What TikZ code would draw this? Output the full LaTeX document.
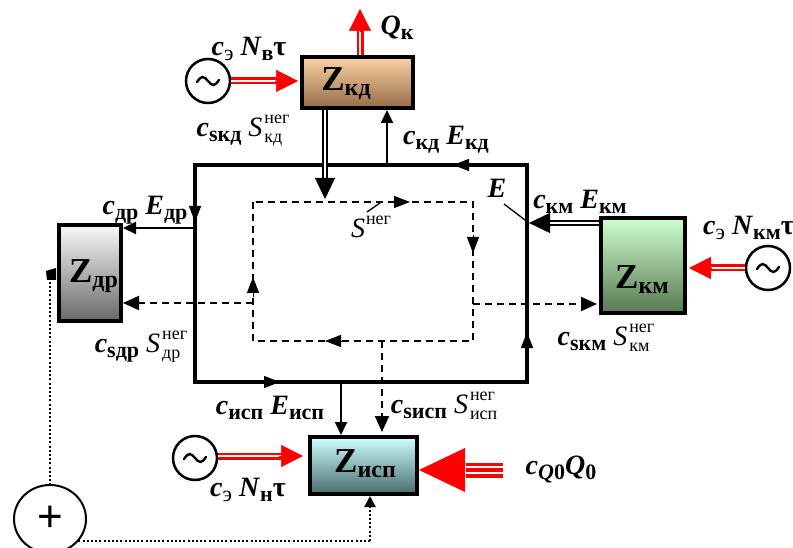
\documentclass[tikz,border=0pt]{standalone}
\usepackage{fontspec}
\setmainfont{Liberation Serif}
\newfontfamily\sansf{Liberation Sans}
\usetikzlibrary{arrows.meta,shapes.geometric}
\definecolor{kdtop}{RGB}{252,210,165}
\definecolor{kdbot}{RGB}{150,108,72}
\definecolor{drtop}{RGB}{248,248,248}
\definecolor{drbot}{RGB}{105,105,105}
\definecolor{kmtop}{RGB}{205,255,205}
\definecolor{kmbot}{RGB}{88,120,82}
\definecolor{istop}{RGB}{205,255,255}
\definecolor{isbot}{RGB}{72,108,108}
\definecolor{rd}{RGB}{255,0,0}
\newcommand{\cc}{\textbf{\textit{c}}}
\newcommand{\bit}[1]{\textbf{\textit{#1}}}
\newcommand{\bsub}[1]{\raisebox{-5pt}{\fontsize{22}{22}\selectfont\bfseries #1}}
\newcommand{\rsub}[1]{\raisebox{-5pt}{\fontsize{22}{22}\selectfont #1}}
\newcommand{\Sneg}[1]{\textit{S}\hspace{2pt}%
  \rlap{\raisebox{-6pt}{\fontsize{18}{18}\selectfont #1}}%
  \raisebox{13pt}{\fontsize{18}{18}\selectfont нег}}
\newcommand{\Zl}[1]{\fontsize{35}{35}\selectfont\bfseries Z\raisebox{-5pt}{\fontsize{24}{24}\selectfont #1}}
\newcommand{\Zat}[3]{\raisebox{#2}[0pt][0pt]{\makebox[0pt]{\hspace*{#1}\Zl{#3}}}}
\begin{document}
\begin{tikzpicture}[x=1pt,y=-1pt,
  zbox/.style={draw, line width=4pt, inner sep=0pt, shading=axis},
  gen/.style={circle, draw, line width=2.5pt, minimum size=44pt, inner sep=0pt, fill=white},
  tilde/.pic={\draw[line width=2.4pt, line cap=round] (-11,1) sin (-5.5,-4) cos (0,0) sin (5.5,4) cos (11,-1);},
  lab/.style={inner sep=0pt, font=\fontsize{28}{30}\selectfont},
  ar/.style={line width=2pt, -{Triangle[length=13pt,width=12pt]}},
  dar/.style={line width=2pt, dash pattern=on 7pt off 5pt, -{Triangle[length=16pt,width=14pt]}},
  dashd/.style={line width=2pt, dash pattern=on 7pt off 5pt},
  midtip/.style={line width=1pt, -{Triangle[length=16pt,width=12pt]}},
  dbl/.style={draw=black, double=white, double distance=2.4pt, line width=2pt},
  bigtip/.style={line width=0.5pt, -{Triangle[length=21pt,width=20pt]}},
  rshaft/.style={draw=rd, double=white, double distance=2.4pt, line width=2.3pt},
  rtip/.style={draw=rd, fill=rd, line width=0.5pt, -{Triangle[length=22pt,width=22pt]}},
  dots/.style={line width=2pt, dash pattern=on 2pt off 2.2pt}]
\useasboundingbox (0,0) rectangle (793,548);

% dotted feedback lines (drawn first, covered by the circle)
\coordinate (dm) at (50,280);
\coordinate (dc) at (370,541);
\node[ellipse, minimum width=72pt, minimum height=68pt, inner sep=0pt] (plus) at (50,519) {};
\node[zbox, top color=istop, bottom color=isbot, minimum width=107pt, minimum height=57pt] (Zisp) at (363.5,465.5) {\Zat{3pt}{-7pt}{исп}};
\draw[dots] (plus.center) -- (dm);
\draw[dots] (plus.center) |- (dc);
\draw[dots, -{Triangle[length=11pt,width=11pt]}] (dc) -- (dc |- Zisp.south);
\node[ellipse, draw, line width=2pt, fill=white, minimum width=72pt, minimum height=68pt, inner sep=0pt, font=\sansf\fontsize{44}{44}\selectfont] at (plus.center) {\raisebox{-4pt}{+}};
\fill (46,271) -- (56,268) -- (56,280) -- (47,280) -- cycle;

% main loop and inner dashed loop
\draw[line width=4pt] (195,165) rectangle (527,382);
\draw[dashd] (253,202) rectangle (473,341);
\draw[midtip] (475,165) -- (453,165);
\draw[midtip] (195,200) -- (195,222);
\draw[midtip] (258,382) -- (280,382);
\draw[midtip] (527,354) -- (527,332);
\draw[midtip] (390,202) -- (410,202);
\draw[midtip] (473,235) -- (473,253);
\draw[midtip] (345,341) -- (325,341);
\draw[midtip] (253,297) -- (253,277);

\coordinate (pkd) at (387,165);
\coordinate (pdr) at (195,228);
\coordinate (pkm) at (529,223);
\coordinate (pis) at (341,382);
\coordinate (ikd) at (325,199);
\coordinate (idr) at (253,303);
\coordinate (ikm) at (473,304);
\coordinate (iis) at (382,341);

% boxes
\node[zbox, top color=kdtop, bottom color=kdbot, minimum width=111pt, minimum height=51pt] (Zkd) at (357.5,82.5) {\Zat{-23pt}{-8pt}{кд}};
\node[zbox, top color=drtop, bottom color=drbot, minimum width=62pt, minimum height=96pt] (Zdr) at (90,273) {\Zat{7pt}{-9.5pt}{др}};
\node[zbox, top color=kmtop, bottom color=kmbot, minimum width=84pt, minimum height=95pt] (Zkm) at (643,265.5) {\Zat{-2pt}{-23pt}{км}};

% generators
\node[gen] (g1) at (208,81) {};
\node[gen] (g2) at (768,268) {};
\node[gen] (g3) at (195,458) {};
\pic at (g1) {tilde};
\pic at (g2) {tilde};
\pic at (g3) {tilde};

% black connectors
\draw[ar] (pkd) -- (Zkd.south -| pkd);
\draw[ar] (pdr) -- (Zdr.east |- pdr);
\draw[ar] (pis) -- (Zisp.north -| pis);
\draw[dbl, shorten >=20pt] (Zkd.south -| ikd) -- (ikd);
\draw[bigtip] ([yshift=21pt]ikd) -- (ikd);
\draw[dbl, shorten >=19pt] (Zkm.west |- pkm) -- (pkm);
\draw[bigtip] ([xshift=20pt]pkm) -- (pkm);
\draw[dar] (idr) -- (Zdr.east |- idr);
\draw[dar] (ikm) -- ([xshift=-2pt]Zkm.west |- ikm);
\draw[dar] (iis) -- ([yshift=3pt]Zisp.north -| iis);

% red energy inputs
\coordinate (qk) at (360,9);
\draw[rshaft] (Zkd.north -| qk) -- ([yshift=-21pt]qk);
\draw[rtip] ([yshift=-23pt]qk) -- (qk);
\draw[rshaft, shorten >=21pt] (g1.east) -- ([xshift=-2pt]Zkd.west |- g1);
\draw[rtip] ([xshift=-25pt]Zkd.west |- g1) -- ([xshift=-2pt]Zkd.west |- g1);
\draw[rshaft, shorten >=21pt] (g2.west) -- ([xshift=2pt]Zkm.east |- g2);
\draw[rtip] ([xshift=25pt]Zkm.east |- g2) -- ([xshift=2pt]Zkm.east |- g2);
\coordinate (n1) at (303,456);
\draw[rshaft, shorten >=21pt] (g3.east |- n1) -- (n1);
\draw[rtip] ([xshift=-24pt]n1) -- (n1);
\coordinate (q0) at (503,470);
\fill[rd] ([yshift=7.5pt]q0) rectangle ([xshift=-37pt,yshift=-7.5pt]q0);
\draw[white, line width=2.2pt] ([yshift=2.8pt]q0) -- ([xshift=-37pt,yshift=2.8pt]q0);
\draw[white, line width=2.2pt] ([yshift=-2.8pt]q0) -- ([xshift=-37pt,yshift=-2.8pt]q0);
\fill[rd] (Zisp.east |- q0) -- ++(46,-22) -- ++(0,44) -- cycle;

% labels
\node[lab] (E) at (497,188) {\bit{E}};
\draw[line width=1.3pt] (504,204) -- (pkm);
\node[lab] (Sn) at (371,227) {\textit{S}\hspace{1pt}\raisebox{13pt}{\fontsize{18}{18}\selectfont нег}};
\draw[line width=1.3pt] (367,212) -- (380,203);
\node[lab] at (249,49) {\cc\rsub{э} \bit{N}\bsub{в}\textbf{τ}};
\node[lab] at (397,28) {\bit{Q}\bsub{к}};
\node[lab] at (243,131) {\cc\bsub{sкд} \Sneg{кд}};
\node[lab] at (446,140) {\cc\bsub{кд} \bit{E}\bsub{кд}};
\node[lab] at (145,210) {\cc\bsub{др} \bit{E}\bsub{др}};
\node[lab] at (141,347) {\cc\bsub{sдр} \Sneg{др}};
\node[lab] at (580,202) {\cc\bsub{км} \bit{E}\bsub{км}};
\node[lab, anchor=west] at (703,228) {\cc\rsub{э} \bit{N}\bsub{км}\textbf{τ}};
\node[lab] at (606,338) {\cc\bsub{sкм} \Sneg{км}};
\node[lab] at (270,408) {\cc\bsub{исп} \bit{E}\bsub{исп}};
\node[lab] at (443,406) {\cc\bsub{sисп} \Sneg{исп}};
\node[lab] at (248,490) {\cc\rsub{э} \bit{N}\bsub{н}\textbf{τ}};
\node[lab] at (561,470) {\cc\raisebox{-5pt}{\fontsize{22}{22}\selectfont\bfseries\itshape Q\upshape 0}\bit{Q}\bsub{0}};
\end{tikzpicture}
\end{document}
